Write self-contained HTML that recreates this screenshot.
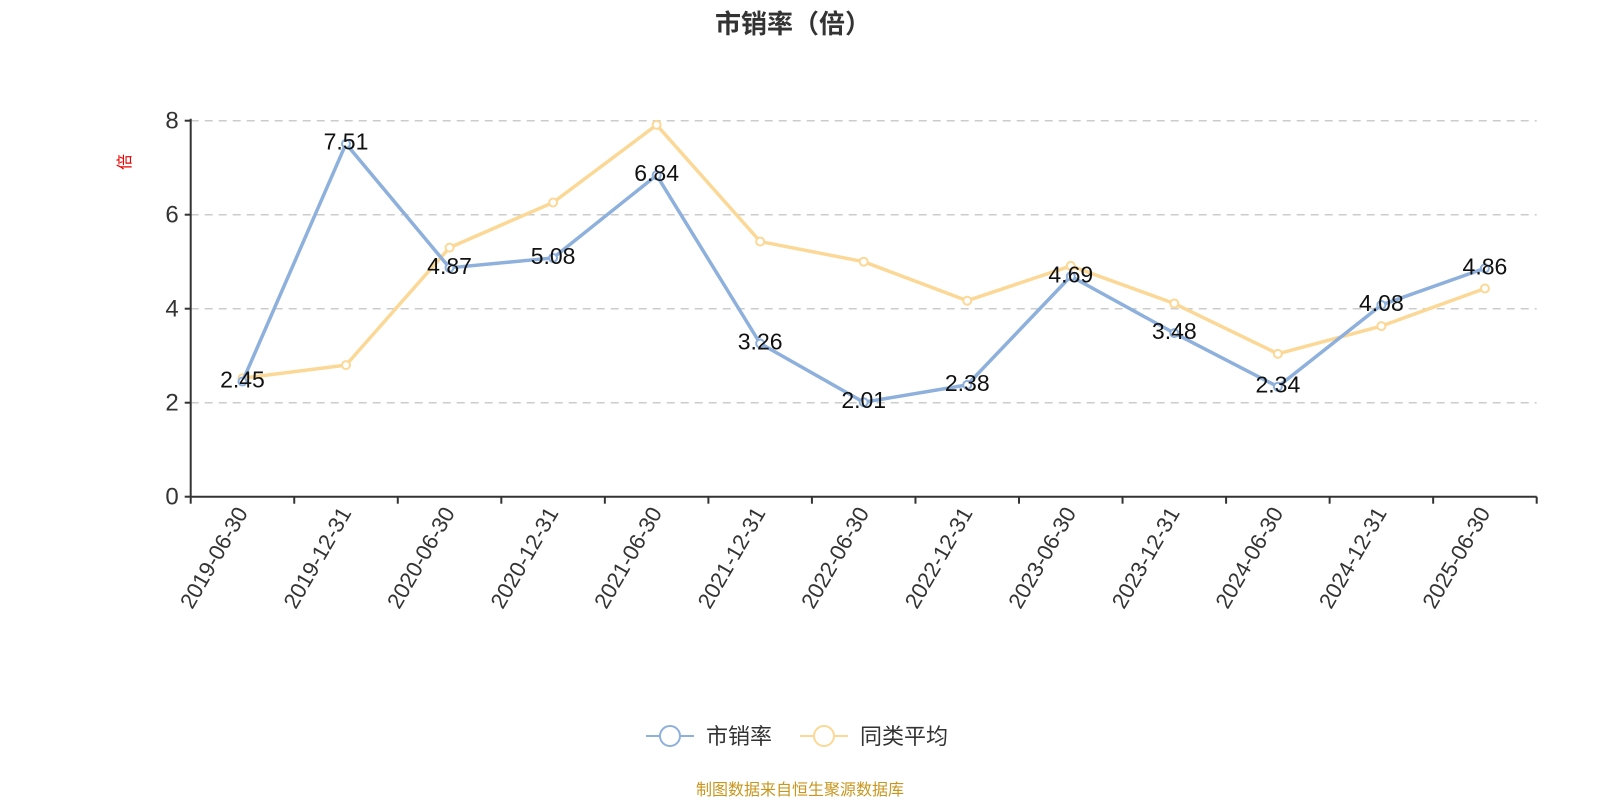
<!DOCTYPE html>
<html><head><meta charset="utf-8"><style>
html,body{margin:0;padding:0;background:#fff}
svg{display:block;font-family:"Liberation Sans","Noto Sans CJK SC",sans-serif}
</style></head><body>
<svg id="c" width="1600" height="800" viewBox="0 0 1600 800">
<text x="793" y="33" text-anchor="middle" font-size="26" font-weight="bold" fill="#333">市销率（倍）</text>
<text transform="translate(130,162) rotate(-90)" text-anchor="middle" font-size="16" fill="#e00">倍</text>
<g id="grid"></g><g id="axes"></g><g id="series"></g>
<g>
<g>
<line x1="646" y1="736" x2="694" y2="736" stroke="#8eb0dc" stroke-width="2"/>
<circle cx="670" cy="736" r="10" fill="#fff" stroke="#8eb0dc" stroke-width="2"/>
<text x="706" y="744" font-size="22" fill="#333">市销率</text></g>
<g>
<line x1="800" y1="736" x2="848" y2="736" stroke="#fcd896" stroke-width="2"/>
<circle cx="824" cy="736" r="10" fill="#fff" stroke="#fcd896" stroke-width="2"/>
<text x="860" y="744" font-size="22" fill="#333">同类平均</text></g>
</g>
<text x="800" y="795" text-anchor="middle" font-size="16" fill="#c8961e">制图数据来自恒生聚源数据库</text>
</svg>
<script>
const categories=["2019-06-30","2019-12-31","2020-06-30","2020-12-31","2021-06-30","2021-12-31","2022-06-30","2022-12-31","2023-06-30","2023-12-31","2024-06-30","2024-12-31","2025-06-30"];
const psValues=[2.45,7.51,4.87,5.08,6.84,3.26,2.01,2.38,4.69,3.48,2.34,4.08,4.86];
const avgValues=[2.52,2.80,5.30,6.26,7.91,5.43,5.00,4.17,4.91,4.11,3.04,3.63,4.43];
const yTicks=[0,2,4,6,8];
const NS="http://www.w3.org/2000/svg";
const L=190.7,R=1536.7,T=120.7,B=496.7,YMAX=8;
const step=(R-L)/categories.length;
const xs=i=>L+step*(i+0.5);
const ys=v=>B-(v/YMAX)*(B-T);
function mk(tag,attrs,parent){const e=document.createElementNS(NS,tag);for(const k in attrs)e.setAttribute(k,attrs[k]);parent.appendChild(e);return e;}
const grid=document.getElementById('grid'),axes=document.getElementById('axes'),ser=document.getElementById('series');
yTicks.forEach(t=>{
  if(t>0){const g=mk('line',{x1:L,x2:R,y1:ys(t),y2:ys(t),stroke:'#ccc','stroke-width':1.5,'stroke-dasharray':'8,6'},grid);
  
  }
  const tk=mk('line',{x1:L-6,x2:L,y1:ys(t),y2:ys(t),stroke:'#333','stroke-width':2},axes);
  
  
  const lb=mk('text',{x:L-12,y:ys(t)+8,'text-anchor':'end','font-size':24,fill:'#333'},axes);lb.textContent=t;
  
  
});
const ya=mk('line',{x1:L,x2:L,y1:T-2,y2:B,stroke:'#333','stroke-width':2},axes);


const xa=mk('line',{x1:L,x2:R,y1:B,y2:B,stroke:'#333','stroke-width':2},axes);


for(let i=0;i<=categories.length;i++){
  const t=mk('line',{x1:L+step*i,x2:L+step*i,y1:B,y2:B+7,stroke:'#333','stroke-width':2},axes);
  
  
}
categories.forEach((c,i)=>{
  const x=xs(i)+6,y=B+16;
  const t=mk('text',{transform:`translate(${x},${y}) rotate(-60)`,'text-anchor':'end','font-size':22,fill:'#333'},axes);t.textContent=c;
  
  
});
function line(vals,color,name){
  const p=mk('polyline',{points:vals.map((v,i)=>xs(i)+','+ys(v)).join(' '),fill:'none',stroke:color,'stroke-width':3.5,'stroke-linejoin':'round'},ser);
  
  
  vals.forEach((v,i)=>{const c=mk('circle',{cx:xs(i),cy:ys(v),r:4,fill:'#fff',stroke:color,'stroke-width':2},ser);
    
    });
}
line(avgValues,'#fcd896','peer-avg');
line(psValues,'#8eb0dc','ps');
psValues.forEach((v,i)=>{
  const t=mk('text',{x:xs(i),y:ys(v)+6,'text-anchor':'middle','font-size':23,fill:'#111'},ser);t.textContent=v.toFixed(2);
  
  
});
</script>
</body></html>
